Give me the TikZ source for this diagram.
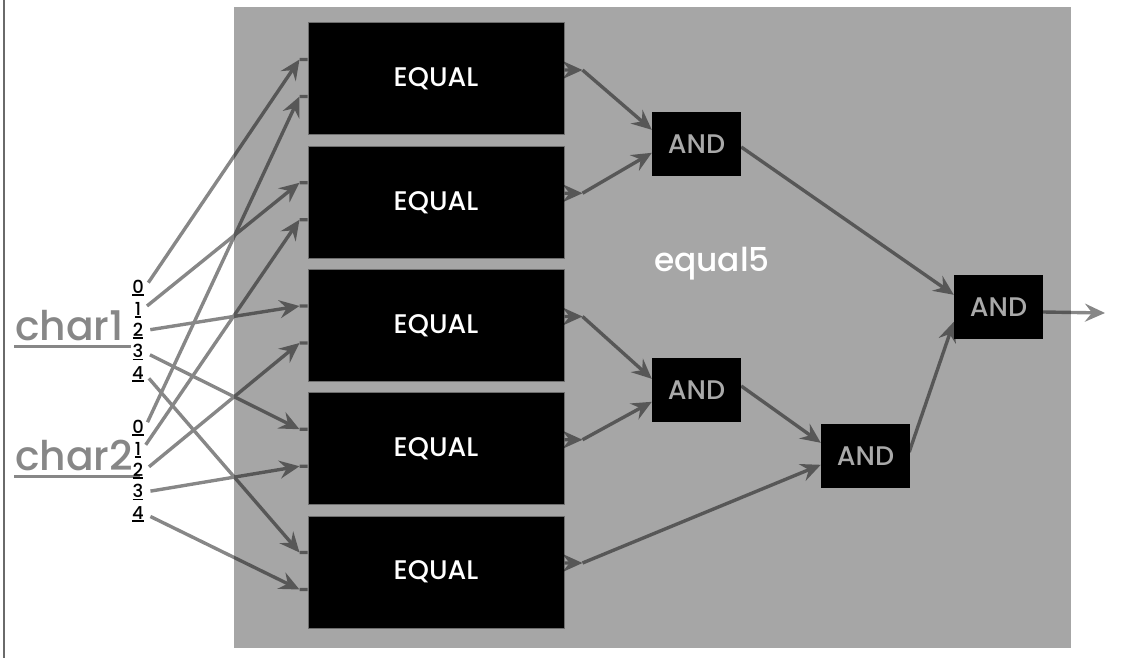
\documentclass[tikz,border=0pt]{standalone}
\usepackage{fontspec}
\setmainfont{Poppins}[UprightFont=* Medium]
\usetikzlibrary{arrows.meta,calc}

\definecolor{panel}{HTML}{A6A6A6}
\definecolor{andtext}{HTML}{A9A9A9}
\definecolor{labelgray}{HTML}{878787}
\definecolor{framegray}{HTML}{6A6A6A}
\definecolor{boxedge}{HTML}{6E6E6E}

% digit with a short rule under it
\newcommand\uldigit[1]{\setbox0\hbox{#1}\rlap{\rule[-2.6bp]{\wd0}{1.6bp}}\box0}

\begin{document}
\begin{tikzpicture}[x=1bp,y=-1bp,
  eqbox/.style={draw=boxedge, line width=1bp, fill=black, minimum width=256bp,
    minimum height=112bp, inner sep=0pt, text=white,
    font=\fontsize{27}{27}\selectfont},
  andbox/.style={fill=black, minimum width=89bp, minimum height=64bp,
    inner sep=0pt, text=andtext, font=\fontsize{27}{27}\selectfont},
  digit/.style={font=\fontsize{18}{18}\selectfont, inner sep=1bp, anchor=base},
  charlabel/.style={font=\fontsize{41}{41}\selectfont, text=labelgray,
    inner sep=0pt, anchor=base west},
  wire/.style={line width=3.4bp, -{Stealth[length=20bp,width=18bp,inset=7bp]}},
  stub/.style={line width=3.4bp},
]
\useasboundingbox (0,0) rectangle (1146,658);

% left frame line and the grey panel of the equal5 block
\draw[framegray, line width=2bp] (4,0) -- (4,658);
\fill[panel] (234,7) rectangle (1071,648);

% comparators
\node[eqbox] (eq1) at (436,79) {\raisebox{-3bp}{EQUAL}};
\node[eqbox] (eq2) at (436,202.25) {\raisebox{-3bp}{EQUAL}};
\node[eqbox] (eq3) at (436,325.5) {\raisebox{-3bp}{EQUAL}};
\node[eqbox] (eq4) at (436,448.75) {\raisebox{-3bp}{EQUAL}};
\node[eqbox] (eq5) at (436,572) {\raisebox{-3bp}{EQUAL}};

% AND gates
\node[andbox] (and1) at (696.5,144) {AND};
\node[andbox] (and2) at (696.5,390) {AND};
\node[andbox] (and3) at (865.5,456) {AND};
\node[andbox] (and4) at (998.5,307) {AND};

\node[font=\fontsize{33}{33}\selectfont, text=white, anchor=base] (title) at (712,271) {equal5};

% input labels
\node[charlabel] (c1) at (15,340) {char1};
\node[charlabel] (c2) at (15,470) {char2};
\draw[labelgray, line width=3bp] ($(c1.base west)+(-1,6)$) -- ($(c1.base east)+(7,6)$);
\draw[labelgray, line width=3bp] ($(c2.base west)+(-1,6)$) -- ($(c2.base east)+(7,6)$);

\node[digit] (a0) at (138,293) {\uldigit{0}};
\node[digit] (a1) at (138,315) {\uldigit{1}};
\node[digit] (a2) at (138,336) {\uldigit{2}};
\node[digit] (a3) at (138,357.5) {\uldigit{3}};
\node[digit] (a4) at (138,379) {\uldigit{4}};
\node[digit] (b0) at (138,433) {\uldigit{0}};
\node[digit] (b1) at (138,455) {\uldigit{1}};
\node[digit] (b2) at (138,476) {\uldigit{2}};
\node[digit] (b3) at (138,497.5) {\uldigit{3}};
\node[digit] (b4) at (138,519) {\uldigit{4}};

% ports
\foreach \i in {1,...,5}{
  \coordinate (eq\i t1) at ($(eq\i.north west)+(-8,37)$);
  \coordinate (eq\i t2) at ($(eq\i.north west)+(-8,74)$);
  \coordinate (eq\i o) at ($(eq\i.east)+(0,-9)$);
  \coordinate (eq\i p) at ($(eq\i o)+(18,0)$);
}
\coordinate (and1i1) at ($(and1.north west)+(0,18)$);
\coordinate (and1i2) at ($(and1.north west)+(0,41)$);
\coordinate (and2i1) at ($(and2.north west)+(0,21)$);
\coordinate (and2i2) at ($(and2.north west)+(0,44)$);
\coordinate (and3i1) at ($(and3.north west)+(0,19)$);
\coordinate (and3i2) at ($(and3.north west)+(0,41)$);
\coordinate (and4i1) at ($(and4.north west)+(0,20)$);
\coordinate (and4i2) at ($(and4.north west)+(0,47)$);
\coordinate (out) at (1105,313);

\begin{scope}[transparency group, opacity=0.47]
  % char1 bits to the upper port of each comparator
  \draw[wire] ($(a0.east)!6bp!(eq1t1)$) -- (eq1t1);
  \draw[wire] ($(a1.east)!6bp!(eq2t1)$) -- (eq2t1);
  \draw[wire] ($(a2.east)!6bp!(eq3t1)$) -- (eq3t1);
  \draw[wire] ($(a3.east)!6bp!(eq4t1)$) -- (eq4t1);
  \draw[wire] ($(a4.east)!6bp!(eq5t1)$) -- (eq5t1);
  % char2 bits to the lower port
  \draw[wire] ($(b0.east)!6bp!(eq1t2)$) -- (eq1t2);
  \draw[wire] ($(b1.east)!6bp!(eq2t2)$) -- (eq2t2);
  \draw[wire] ($(b2.east)!6bp!(eq3t2)$) -- (eq3t2);
  \draw[wire] ($(b3.east)!6bp!(eq4t2)$) -- (eq4t2);
  \draw[wire] ($(b4.east)!6bp!(eq5t2)$) -- (eq5t2);
  \foreach \i in {1,...,5}{
    \draw[stub] (eq\i t1) -- (eq\i t1 -| eq\i.west);
    \draw[stub] (eq\i t2) -- (eq\i t2 -| eq\i.west);
    \draw[wire] (eq\i o) -- (eq\i p);
  }
  % comparator results into the AND tree
  \draw[wire] (eq1p) -- (and1i1);
  \draw[wire] (eq2p) -- (and1i2);
  \draw[wire] (eq3p) -- (and2i1);
  \draw[wire] (eq4p) -- (and2i2);
  \draw[wire] (eq5p) -- (and3i2);
  \draw[wire] ($(and2.east)+(0,-4)$) -- (and3i1);
  \draw[wire] ($(and1.east)+(0,3)$) -- (and4i1);
  \draw[wire] ($(and3.east)+(-1,-4)$) -- (and4i2);
  \draw[wire] ($(and4.east)+(0,5)$) -- (out);
\end{scope}
\end{tikzpicture}
\end{document}
